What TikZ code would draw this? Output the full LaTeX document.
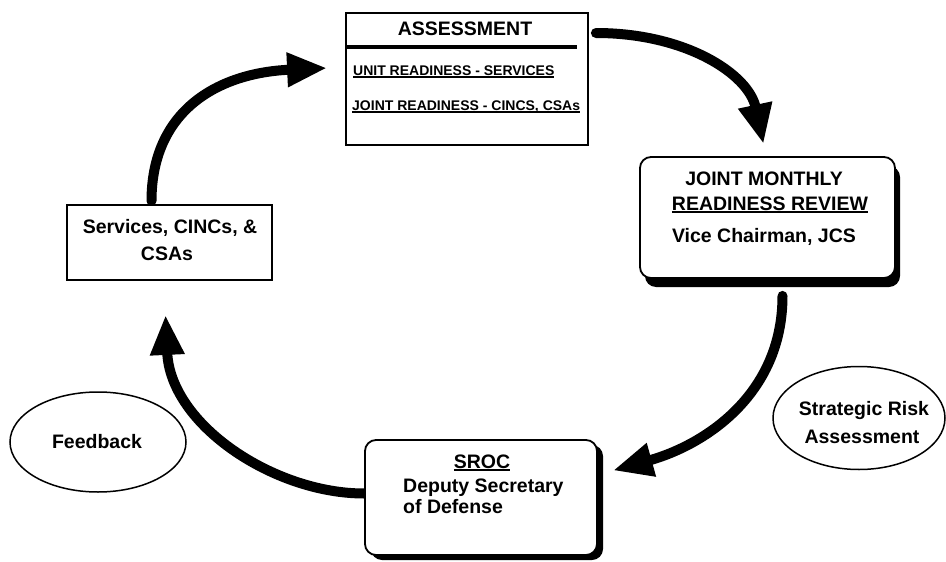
\documentclass[tikz,border=0pt]{standalone}
\usepackage{fontspec}
\setmainfont{Liberation Sans}
\usetikzlibrary{arrows.meta,shadows,shapes.geometric}
\pgfdeclarelayer{bg}
\pgfsetlayers{bg,main}
\newsavebox\ulbox
\newcommand\myul[1]{\sbox\ulbox{#1}\rlap{\rule[-3pt]{\wd\ulbox}{1.6pt}}\usebox\ulbox}
\begin{document}
\begin{tikzpicture}[x=1pt,y=-1pt,
 txt/.style={font=\fontsize{19.5}{23}\bfseries\selectfont, inner sep=0pt, anchor=base},
 small/.style={font=\fontsize{14}{16}\bfseries\selectfont, inner sep=0pt, anchor=base west},
 sqbox/.style={draw, line width=1.8pt, fill=white, inner sep=0pt},
 rbox/.style={draw, line width=1.8pt, fill=white, rounded corners=11pt, inner sep=0pt},
 oval/.style={draw, ellipse, line width=1.5pt, inner sep=0pt},
 bigarrow/.style={line width=10pt, line cap=round, -{Triangle[length=40pt,width=32pt]}}]
\useasboundingbox (0,0) rectangle (946,562);
\node[sqbox, minimum width=242pt, minimum height=132pt] (assess) at (467,79) {};
\node[sqbox, minimum width=205pt, minimum height=75pt] (serv) at (169.5,242.5) {};
\node[rbox, minimum width=255pt, minimum height=121pt, drop shadow={shadow xshift=5pt, shadow yshift=-9pt, fill=black, opacity=1}] (joint) at (767.5,217.5) {};
\node[rbox, minimum width=232pt, minimum height=115pt, drop shadow={shadow xshift=6pt, shadow yshift=-5pt, fill=black, opacity=1}] (sroc) at (481,497.5) {};
\node[oval, minimum width=176pt, minimum height=100pt] (fb) at (98,442) {};
\node[oval, minimum width=172pt, minimum height=103pt] (sra) at (859,418) {};
\draw[line width=3.5pt] ([yshift=32pt]assess.west) -- ++(232,0);
\node[txt] (t1) at (465,35) {ASSESSMENT};
\node[small] (t2) at (353,75) {\myul{UNIT READINESS - SERVICES}};
\node[small] (t3) at (352,110) {\myul{JOINT READINESS - CINCS, CSAs}};
\node[txt] (j1) at (764,185) {JOINT MONTHLY};
\node[txt] (j2) at (770,210) {\myul{READINESS REVIEW}};
\node[txt] (j3) at (764,242) {Vice Chairman, JCS};
\node[txt] (s1) at (170,233) {Services, CINCs, \&};
\node[txt] (s2) at (167,260) {CSAs};
\node[txt] (r1) at (482,468) {\myul{SROC}};
\node[txt, anchor=base west] (r2) at (403,492) {Deputy Secretary};
\node[txt, anchor=base west] (r3) at (403,513) {of Defense};
\node[txt] (f1) at (97,448) {Feedback};
\node[txt] (a1) at (864,415) {Strategic Risk};
\node[txt] (a2) at (862,443) {Assessment};
\begin{pgfonlayer}{bg}
\draw[bigarrow] ([xshift=-18pt,yshift=3pt]serv.north) .. controls +(0,-90) and +(-110,5) .. ([xshift=-18pt,yshift=11pt]assess.west);
\draw[bigarrow] ([xshift=7pt,yshift=46pt]assess.east) .. controls +(90,0) and +(-15,-70) .. ([xshift=-4pt,yshift=12pt]joint.north);
\draw[bigarrow] ([xshift=15pt,yshift=-17pt]joint.south) .. controls +(0,100) and +(90,-25) .. ([xshift=15pt,yshift=27pt]sroc.east);
\draw[bigarrow] ([yshift=4pt]sroc.west) .. controls +(-90,0) and +(5,110) .. ([xshift=-4pt,yshift=-34pt]serv.south);
\end{pgfonlayer}
\end{tikzpicture}
\end{document}
